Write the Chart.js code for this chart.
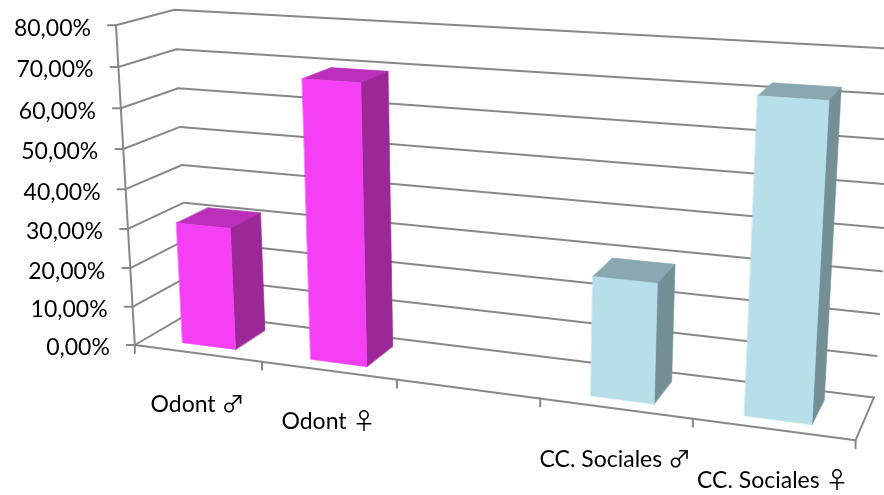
<!DOCTYPE html>
<html>
<head>
<meta charset="utf-8">
<style>
  html, body { margin: 0; padding: 0; background: #fff; overflow: hidden; }
  canvas { display: block; }
</style>
<script src="https://cdn.jsdelivr.net/npm/chart.js@4/dist/chart.umd.min.js"></script>
</head>
<body>
<canvas id="genderChart" width="884" height="495"></canvas>
<script>
const categories = ["Odont ♂", "Odont ♀", "", "CC. Sociales ♂", "CC. Sociales ♀"];
const percentages = [31, 69, null, 28.5, 72];
const yMax = 80;
const yStep = 10;

// Face colours per category
const frontColors = ["#f53ff5", "#f53ff5", "#f53ff5", "#b7dfea", "#b7dfea"];
const sideColors = ["#9c2797", "#9c2797", "#9c2797", "#748f96", "#748f96"];
const topColors = ["#bb30bb", "#bb30bb", "#bb30bb", "#89a9b2", "#89a9b2"];

const labelFont = "23px Lato, 'Noto Sans CJK JP', 'DejaVu Sans', sans-serif";
const gridColor = "#888888";
const barDepth = [0.21, 0.79];

// Where the plot box lands on the page: [across, up, into the page, px, py]
const frame = [
  [0, 0, 0, 135, 345], [0, 0.25, 0, 130.5, 268], [0, 0.5, 0, 125.5, 189], [0, 0.75, 0, 121, 108], [0, 1, 0, 115, 25],
  [0, 0, 1, 188, 312], [0, 0.5, 1, 182.5, 166], [0, 1, 1, 175, 10],
  [0.2, 0, 0, 263, 362], [0.4, 0, 0, 397, 380], [0.6, 0, 0, 540, 399], [0.8, 0, 0, 693, 419], [1, 0, 0, 855, 440],
  [1, 0, 1, 874, 397], [1, 0.5, 1, 885.5, 229], [1, 1, 1, 895, 48],
];

// Least squares fit of a 3x4 camera matrix (last entry fixed to 1)
function fitCamera(points) {
  const n = 11;
  const a = Array.from({ length: n }, () => new Array(n + 1).fill(0));
  const addRow = (row, rhs) => {
    for (let i = 0; i < n; i++) {
      for (let j = 0; j < n; j++) a[i][j] += row[i] * row[j];
      a[i][n] += row[i] * rhs;
    }
  };
  points.forEach(([u, v, w, px, py]) => {
    addRow([u, v, w, 1, 0, 0, 0, 0, -px * u, -px * v, -px * w], px);
    addRow([0, 0, 0, 0, u, v, w, 1, -py * u, -py * v, -py * w], py);
  });
  for (let c = 0; c < n; c++) {
    let best = c;
    for (let r = c + 1; r < n; r++) if (Math.abs(a[r][c]) > Math.abs(a[best][c])) best = r;
    [a[c], a[best]] = [a[best], a[c]];
    for (let r = 0; r < n; r++) {
      if (r === c) continue;
      const f = a[r][c] / a[c][c];
      for (let k = c; k <= n; k++) a[r][k] -= f * a[c][k];
    }
  }
  return a.map((row, i) => row[n] / row[i]);
}

const cam = fitCamera(frame);
function project(u, v, w) {
  const d = cam[8] * u + cam[9] * v + cam[10] * w + 1;
  return [
    (cam[0] * u + cam[1] * v + cam[2] * w + cam[3]) / d,
    (cam[4] * u + cam[5] * v + cam[6] * w + cam[7]) / d,
  ];
}

function polyline(ctx, pts) {
  ctx.beginPath();
  pts.forEach((p, i) => (i ? ctx.lineTo(p[0], p[1]) : ctx.moveTo(p[0], p[1])));
}

function fillFace(ctx, pts, color) {
  polyline(ctx, pts);
  ctx.closePath();
  ctx.fillStyle = color;
  ctx.fill();
  // hairline in the same colour closes the seams between faces
  ctx.strokeStyle = color;
  ctx.lineWidth = 0.6;
  ctx.stroke();
}

// Redraws the chart's own scales and bars on a tilted box
const box3d = {
  id: "box3d",
  beforeDatasetsDraw(chart) {
    const { ctx, chartArea: area, scales } = chart;
    const toU = (px) => (px - area.left) / (area.right - area.left);
    const toV = (py) => (area.bottom - py) / (area.bottom - area.top);

    ctx.save();
    ctx.lineCap = "round";
    ctx.lineJoin = "round";
    ctx.strokeStyle = gridColor;
    ctx.lineWidth = 2;

    // walls and floor gridlines, with the value labels
    scales.y.ticks.forEach((tick) => {
      const v = toV(scales.y.getPixelForValue(tick.value));
      const front = project(0, v, 0);
      polyline(ctx, [[front[0] - 8, front[1]], front, project(0, v, 1), project(1, v, 1)]);
      ctx.stroke();
      ctx.font = labelFont;
      ctx.fillStyle = "#000";
      ctx.textAlign = "right";
      ctx.textBaseline = "middle";
      ctx.fillText(tick.label, front[0] - 25, front[1] + 3);
    });
    polyline(ctx, [project(0, 0, 0), project(0, 1, 0)]);
    ctx.stroke();
    polyline(ctx, [project(0, 0, 0), project(1, 0, 0), project(1, 0, 1)]);
    ctx.stroke();

    // category ticks sit on the edges between categories
    const count = scales.x.ticks.length;
    for (let i = 0; i <= count; i++) {
      const p = project(i / count, 0, 0);
      polyline(ctx, [p, [p[0], p[1] + 8]]);
      ctx.stroke();
    }
    scales.x.ticks.forEach((tick, i) => {
      const p = project(toU(scales.x.getPixelForTick(i)), 0, 0);
      ctx.font = labelFont;
      ctx.fillStyle = "#000";
      ctx.textAlign = "center";
      ctx.textBaseline = "middle";
      ctx.fillText(tick.label, p[0], p[1] + 51);
    });

    // bars, left to right
    const meta = chart.getDatasetMeta(0);
    meta.data.forEach((bar, i) => {
      if (percentages[i] === null) return;
      const { x, y, base, width } = bar.getProps(["x", "y", "base", "width"], true);
      const u0 = toU(x - width / 2);
      const u1 = toU(x + width / 2);
      const v0 = toV(base);
      const v1 = toV(y);
      const [w0, w1] = barDepth;
      fillFace(ctx, [project(u0, v1, w0), project(u1, v1, w0), project(u1, v1, w1), project(u0, v1, w1)], topColors[i]);
      fillFace(ctx, [project(u1, v0, w0), project(u1, v1, w0), project(u1, v1, w1), project(u1, v0, w1)], sideColors[i]);
      fillFace(ctx, [project(u0, v0, w0), project(u1, v0, w0), project(u1, v1, w0), project(u0, v1, w0)], bar.options.backgroundColor);
    });
    ctx.restore();
    return false;
  },
};

new Chart(document.getElementById("genderChart"), {
  type: "bar",
  data: {
    labels: categories,
    datasets: [{ data: percentages, backgroundColor: frontColors, categoryPercentage: 1, barPercentage: 0.42 }],
  },
  options: {
    responsive: false,
    animation: false,
    layout: { padding: 0 },
    plugins: { legend: { display: false }, tooltip: { enabled: false } },
    scales: {
      x: { display: false, ticks: { autoSkip: false } },
      y: {
        display: false,
        min: 0,
        max: yMax,
        ticks: { stepSize: yStep, callback: (value) => value.toFixed(2).replace(".", ",") + "%" },
      },
    },
  },
  plugins: [box3d],
});
</script>
</body>
</html>
